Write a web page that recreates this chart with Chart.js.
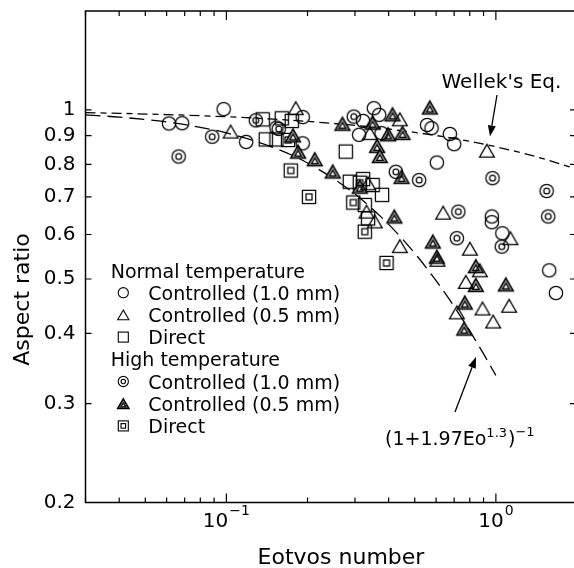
<!DOCTYPE html>
<html><head><meta charset="utf-8">
<script src="https://cdn.jsdelivr.net/npm/chart.js@4.4.1/dist/chart.umd.min.js"></script>
<style>html,body{margin:0;padding:0;overflow:hidden;background:#fff;width:574px;height:568px}canvas{display:block}</style>
</head><body>
<canvas id="c" width="580" height="568"></canvas>
<script>
// ---------- data (Eotvos number, aspect ratio) ----------
const ncEo = [0.0612,0.0685,0.0977,0.1184,0.1534,0.192,0.192,0.3524,0.3688,0.3215,0.3108,0.3764,0.5557,0.577,0.6748,0.70,0.6037,0.9663,0.9663,1.057,1.577,1.67];
const ncAR = [0.946,0.947,1.003,0.877,0.93,0.971,0.872,1.007,0.98,0.956,0.903,0.909,0.94,0.928,0.906,0.869,0.806,0.646,0.631,0.603,0.518,0.472];
const ntEo = [0.1037,0.1809,0.4401,0.3405,0.926,0.3356,0.3311,0.3554,0.6373,0.4401,0.8008,1.132,0.872,0.7738,0.607,1.12,0.8924,0.7165,0.977];
const ntAR = [0.915,1.007,0.962,0.909,0.846,0.74,0.659,0.633,0.656,0.572,0.566,0.591,0.518,0.494,0.541,0.448,0.443,0.436,0.42];
const nsEo = [0.1364,0.1605,0.1748,0.140,0.1534,0.2773,0.287,0.3215,0.349,0.378,0.3262,0.3356];
const nsAR = [0.962,0.966,0.956,0.886,0.886,0.843,0.745,0.753,0.735,0.706,0.677,0.641];
const hcEo = [0.0886,0.0665,0.1285,0.1564,0.297,0.4254,0.5191,0.972,1.543,1.564,0.7258,0.7165,1.052];
const hcAR = [0.896,0.826,0.958,0.925,0.973,0.776,0.75,0.756,0.717,0.646,0.659,0.591,0.571];
const htEo = [0.1767,0.1845,0.2128,0.2481,0.2696,0.3485,0.4135,0.3982,0.4504,0.3625,0.3709,0.5687,0.4466,0.3126,0.4199,0.5835,0.6037,0.8428,0.8428,1.089,0.7672,0.763];
const htAR = [0.901,0.843,0.817,0.777,0.945,0.949,0.982,0.905,0.91,0.863,0.828,1.01,0.76,0.73,0.646,0.583,0.548,0.527,0.488,0.489,0.454,0.408];
const hsEo = [0.1693,0.1733,0.2026,0.3126,0.2957,0.3262,0.3928];
const hsAR = [0.884,0.78,0.70,0.742,0.684,0.607,0.534];
// curves
const wellekEo = [0.03,0.04,0.06,0.08,0.1,0.15,0.2,0.3,0.4,0.6,0.8,1.0,1.4,2.0];
const wellekAR = [0.9887,0.9860,0.9810,0.9765,0.9723,0.9627,0.9540,0.9385,0.9247,0.9003,0.8790,0.8598,0.8262,0.7840];
const fitEo = [0.03,0.04,0.06,0.08,0.1,0.15,0.2,0.3,0.4,0.5,0.6,0.7,0.8,0.9,1.0];
const fitAR = [0.9798,0.9709,0.9516,0.9313,0.9101,0.8567,0.8045,0.7083,0.6255,0.5556,0.4965,0.4467,0.4042,0.3679,0.3367];
// ticks / labels
const xMajorTicks = [0.1, 1];
const xTickBase = ['10', '10'];
const xTickExp = ['\u22121', '0'];
const xMinorTicks = [0.03,0.04,0.05,0.06,0.07,0.08,0.09,0.2,0.3,0.4,0.5,0.6,0.7,0.8,0.9,2];
const yTicks = [0.2,0.3,0.4,0.5,0.6,0.7,0.8,0.9,1];
const xTitle = 'Eotvos number';
const yTitle = 'Aspect ratio';
const legendHeaders = ['Normal temperature', 'High temperature'];
const legendLabels = ['Controlled (1.0 mm)', 'Controlled (0.5 mm)', 'Direct'];
const wellekText = "Wellek's Eq.";

const FONT = "'DejaVu Sans', sans-serif";

// ---------- marker drawing ----------
function circ(g,x,y,s,dbl){
  g.beginPath(); g.arc(x,y,6.7*s,0,Math.PI*2); g.stroke();
  if(dbl){ g.beginPath(); g.arc(x,y,2.9*s,0,Math.PI*2); g.stroke(); }
}
function triPath(g,x,y,h,w){ g.beginPath(); g.moveTo(x,y-h); g.lineTo(x+w,y+h); g.lineTo(x-w,y+h); g.closePath(); }
function tri(g,x,y,s,dbl){
  if(dbl){
    triPath(g,x,y,6.4*s,7.4*s); g.fillStyle='#8c8c8c'; g.fill(); g.lineWidth=1.5; g.stroke();
    triPath(g,x,y+1.6*s,2.7*s,3.1*s); g.fillStyle='#fff'; g.fill(); g.lineWidth=1.2; g.stroke();
  } else { triPath(g,x,y,6.4*s,7.4*s); g.stroke(); }
}
function sq(g,x,y,s,dbl){
  const r=6.6*s; g.strokeRect(x-r,y-r,2*r,2*r);
  if(dbl){ const q=3*s; g.strokeRect(x-q,y-q,2*q,2*q); }
}
function makeMarker(fn,dbl){
  const c=document.createElement('canvas'); c.width=20; c.height=20;
  const g=c.getContext('2d'); g.strokeStyle='#000'; g.lineWidth=1.25;
  fn(g,10,10,1,dbl); return c;
}
const pts = (xs,ys) => xs.map((v,i)=>({x:v,y:ys[i]}));
const markerSet = (data, fn, dbl) => ({ data, pointStyle: makeMarker(fn,dbl), pointRadius: 7, showLine:false });

const datasets = [
  markerSet(pts(ncEo,ncAR), circ, false),
  markerSet(pts(ntEo,ntAR), tri, false),
  markerSet(pts(nsEo,nsAR), sq, false),
  markerSet(pts(hcEo,hcAR), circ, true),
  markerSet(pts(htEo,htAR), tri, true),
  markerSet(pts(hsEo,hsAR), sq, true),
  { data: pts(wellekEo,wellekAR), showLine:true, pointRadius:0, borderColor:'#000', borderWidth:1.3, borderDash:[10,5,6,5], cubicInterpolationMode:'monotone', fill:false },
  { data: pts(fitEo,fitAR), showLine:true, pointRadius:0, borderColor:'#000', borderWidth:1.3, borderDash:[15,7], cubicInterpolationMode:'monotone', fill:false }
];

function arrow(g,x0,y0,x1,y1){
  const ang=Math.atan2(y1-y0,x1-x0), L=11, W=4;
  const bx=x1-L*Math.cos(ang), by=y1-L*Math.sin(ang);
  g.beginPath(); g.moveTo(x0,y0); g.lineTo(bx,by); g.stroke();
  g.beginPath(); g.moveTo(x1,y1);
  g.lineTo(bx+W*Math.sin(ang), by-W*Math.cos(ang));
  g.lineTo(bx-W*Math.sin(ang), by+W*Math.cos(ang));
  g.closePath(); g.fill();
}

const decor = {
  id:'decor',
  afterDraw(chart){
    const g=chart.ctx, a=chart.chartArea, xs=chart.scales.x, ys=chart.scales.y;
    g.save();
    g.strokeStyle='#000'; g.fillStyle='#000';
    g.lineWidth=1.5;
    g.strokeRect(a.left,a.top,a.right-a.left,a.bottom-a.top);
    g.lineWidth=1.2;
    g.beginPath();
    const xt=(v,len)=>{ const p=xs.getPixelForValue(v); g.moveTo(p,a.bottom); g.lineTo(p,a.bottom-len); g.moveTo(p,a.top); g.lineTo(p,a.top+len); };
    xMinorTicks.forEach(v=>xt(v,5));
    xMajorTicks.forEach(v=>xt(v,9));
    yTicks.forEach(v=>{ const p=ys.getPixelForValue(v); g.moveTo(a.left,p); g.lineTo(a.left+6,p); g.moveTo(a.right,p); g.lineTo(a.right-7,p); });
    g.stroke();

    // x tick labels with superscript exponents
    g.textBaseline='alphabetic'; g.textAlign='left';
    xMajorTicks.forEach((v,i)=>{
      const p=xs.getPixelForValue(v);
      g.font='20px '+FONT; const wb=g.measureText(xTickBase[i]).width;
      g.font='14px '+FONT; const we=g.measureText(xTickExp[i]).width;
      let x0=p-(wb+we+1)/2;
      g.font='20px '+FONT; g.fillText(xTickBase[i],x0,527);
      g.font='14px '+FONT; g.fillText(xTickExp[i],x0+wb+1,515);
    });

    // axis titles
    g.font='22px '+FONT; g.textAlign='center';
    g.fillText(xTitle, 341, 564);
    g.save(); g.translate(29,299.5); g.rotate(-Math.PI/2); g.fillText(yTitle,0,0); g.restore();

    // annotations
    g.textAlign='left';
    g.font='20px '+FONT;
    g.fillText(wellekText, 441.5, 88);
    g.lineWidth=1.3;
    arrow(g,497,95,490,136.5);
    arrow(g,455,412,476,357);
    let x=385;
    g.font='19px '+FONT; g.fillText('(1+1.97Eo',x,445); x+=g.measureText('(1+1.97Eo').width;
    g.font='13px '+FONT; g.fillText('1.3',x,436.5); x+=g.measureText('1.3').width+1;
    g.font='19px '+FONT; g.fillText(')',x,445); x+=g.measureText(')').width;
    g.font='13px '+FONT; g.fillText('\u22121',x,436);

    // legend
    const fns=[circ,tri,sq];
    g.font='19px '+FONT;
    let base=277.5; const step=22.2;
    [false,true].forEach((dbl,gi)=>{
      g.fillStyle='#000';
      g.fillText(legendHeaders[gi],110.7,base); base+=step;
      legendLabels.forEach((lab,i)=>{
        g.lineWidth=1.1; g.strokeStyle='#000';
        fns[i](g,123.3,base-7,0.76,dbl);
        g.fillStyle='#000'; g.font='19px '+FONT;
        g.fillText(lab,148.3,base); base+=step;
      });
    });
    g.restore();
  }
};

new Chart(document.getElementById('c'), {
  type:'scatter',
  data:{ datasets },
  options:{
    responsive:false, animation:false, devicePixelRatio:1,
    layout:{ autoPadding:false, padding:{ top:11, right:3, left:0, bottom:0 } },
    plugins:{ legend:{display:false}, tooltip:{enabled:false} },
    scales:{
      x:{
        type:'logarithmic', min:0.03, max:2,
        afterFit:s=>{ s.height=65.5; s.paddingLeft=0; s.paddingRight=0; },
        afterBuildTicks:s=>{ s.ticks=xMajorTicks.map(v=>({value:v})); },
        grid:{display:false, drawTicks:false}, border:{display:false},
        ticks:{ display:false }
      },
      y:{
        type:'logarithmic', min:0.2, max:1.5,
        afterFit:s=>{ s.width=85.5; s.paddingTop=0; s.paddingBottom=0; },
        afterBuildTicks:s=>{ s.ticks=yTicks.map(v=>({value:v})); },
        grid:{display:false, drawTicks:false}, border:{display:false},
        ticks:{ autoSkip:false, padding:10, color:'#000', font:{family:FONT,size:20},
          callback:(v)=>String(v) }
      }
    }
  },
  plugins:[decor]
});
</script>
</body></html>
